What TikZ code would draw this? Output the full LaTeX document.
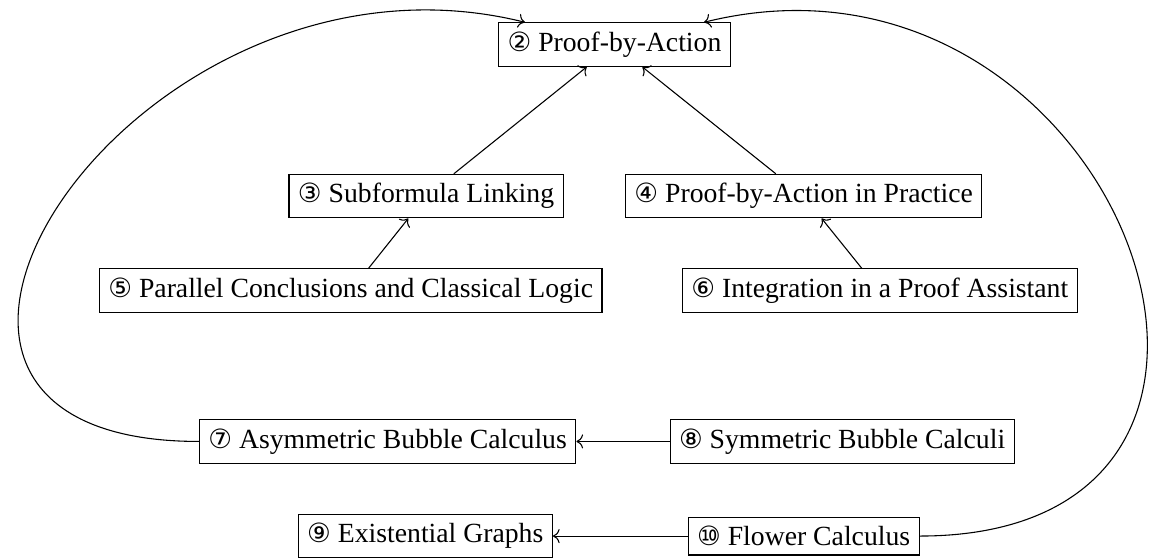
\documentclass[tikz,border=0pt]{standalone}
\usepackage{fontspec}
\setmainfont{Liberation Serif}
\newfontfamily\circfont{DejaVu Sans}
\usepackage{tikz}
\usetikzlibrary{arrows.meta}
\usetikzlibrary{positioning}
\newcommand{\chapno}[1]{{\circfont\fontsize{9.8}{11}\selectfont #1}}
\tikzstyle{chap} = [draw, rectangle, font=\fontsize{10.25}{12.4}\selectfont]
\tikzstyle{link} = [->]

\begin{document}
\begin{tikzpicture}
            \useasboundingbox (0,0) rectangle (14.94,-7.27);
            % chapters
            \node[chap] (pba)   at (7.99,-0.58)  {\chapno{②} Proof-by-Action};
            \node[chap] (sfl)   at (5.54,-2.55)  {\chapno{③} Subformula Linking};
            \node[chap] (prac)  at (10.45,-2.55) {\chapno{④} Proof-by-Action in Practice};
            \node[chap] (pcl)   at (4.56,-3.78)  {\chapno{⑤} Parallel Conclusions and Classical Logic};
            \node[chap] (coq)   at (11.44,-3.78) {\chapno{⑥} Integration in a Proof Assistant};
            \node[chap] (abc)   at (5.04,-5.74)  {\chapno{⑦} Asymmetric Bubble Calculus};
            \node[chap] (sbc)   at (10.95,-5.74) {\chapno{⑧} Symmetric Bubble Calculi};
            \node[chap] (eg)    at (5.53,-6.97)  {\chapno{⑨} Existential Graphs};
            \node[chap] (flow)  at (10.45,-6.97) {\chapno{⑩} Flower Calculus};
            % dependencies
            \draw[link] (sfl) -- (pba);
            \draw[link] (prac) -- (pba);
            \draw[link] (pcl) -- (sfl);
            \draw[link] (coq) -- (prac);
            \draw[link] (sbc) -- (abc);
            \draw[link] (flow) -- (eg);
            \draw[link] (abc.west) to[out=180, in=166, looseness=1.93] (pba);
            \draw[link] (flow.east) to[out=0, in=14, looseness=1.95] (pba);
        \end{tikzpicture}
\end{document}
